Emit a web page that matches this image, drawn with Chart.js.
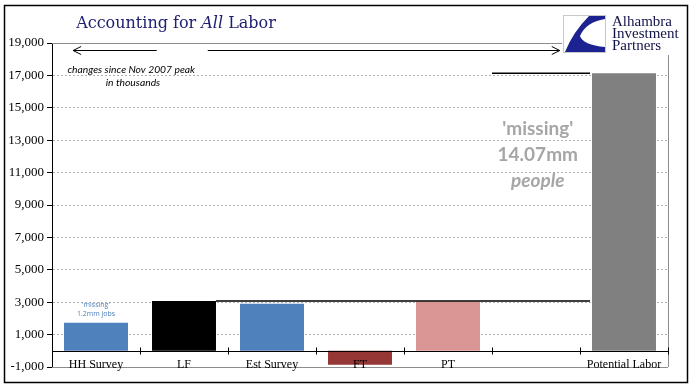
<!DOCTYPE html>
<html>
<head>
<meta charset="utf-8">
<script src="https://cdn.jsdelivr.net/npm/chart.js@4"></script>
<style>
  html, body { margin: 0; padding: 0; background: #fff; }
  #wrap { width: 696px; height: 392px; }
</style>
</head>
<body>
<div id="wrap"><canvas id="chart" width="696" height="392"></canvas></div>
<script>
// values, thousands of people since Nov 2007
const categories = ['HH Survey', 'LF', 'Est Survey', 'FT', 'PT', '', 'Potential Labor'];
const changes = [1730, 3070, 2910, -860, 3050, 0, 17140];
const barColors = ['#4f81bd', '#000000', '#4f81bd', '#953735', '#d99694', '#ffffff', '#808080'];
const yTicks = [-1000, 1000, 3000, 5000, 7000, 9000, 11000, 13000, 15000, 17000, 19000];
const arrowLevel = 18570;

const navy = '#202072';

function catX(xs, c) {
  // c in category units, 0 = left edge of first category
  const p0 = xs.getPixelForValue(0), p1 = xs.getPixelForValue(1);
  return p0 + (c - 0.5) * (p1 - p0);
}

const extras = {
  id: 'extras',
  afterDatasetsDraw(chart) {
    const ctx = chart.ctx, xs = chart.scales.x, ys = chart.scales.y, a = chart.chartArea;
    const step = xs.getPixelForValue(1) - xs.getPixelForValue(0);
    const half = step * 0.727 / 2;
    ctx.save();

    // solid frame lines of the plot
    ctx.strokeStyle = '#8c8c8c';
    ctx.lineWidth = 1;
    ctx.beginPath();
    ctx.moveTo(a.left, Math.round(ys.getPixelForValue(19000)) + 0.5);
    ctx.lineTo(a.right, Math.round(ys.getPixelForValue(19000)) + 0.5);
    ctx.moveTo(a.left, Math.round(ys.getPixelForValue(-1000)) + 0.5);
    ctx.lineTo(a.right, Math.round(ys.getPixelForValue(-1000)) + 0.5);
    ctx.moveTo(Math.round(a.right) + 0.5, a.top);
    ctx.lineTo(Math.round(a.right) + 0.5, a.bottom);
    ctx.stroke();

    // zero axis with ticks
    const y0 = Math.round(ys.getPixelForValue(0)) + 0.5;
    ctx.strokeStyle = '#000';
    ctx.beginPath();
    ctx.moveTo(a.left, y0);
    ctx.lineTo(a.right, y0);
    for (let i = 1; i <= categories.length; i++) {
      const x = Math.round(catX(xs, i)) + 0.5;
      ctx.moveTo(x, y0 - 4);
      ctx.lineTo(x, y0 + 3);
    }
    ctx.stroke();

    // level lines: LF top across to Potential Labor, and Potential Labor top
    const potX = xs.getPixelForValue(6) - half;
    ctx.lineWidth = 1.5;
    ctx.beginPath();
    ctx.moveTo(xs.getPixelForValue(1) + half, ys.getPixelForValue(changes[1]));
    ctx.lineTo(potX - 2, ys.getPixelForValue(changes[1]));
    ctx.moveTo(catX(xs, 5), ys.getPixelForValue(changes[6]));
    ctx.lineTo(potX - 2, ys.getPixelForValue(changes[6]));
    ctx.stroke();

    // arrows along the top
    const ya = Math.round(ys.getPixelForValue(arrowLevel)) + 0.5;
    const l1 = catX(xs, 0.24), l2 = catX(xs, 1.19);
    const r1 = catX(xs, 1.77), r2 = catX(xs, 5.77);
    ctx.lineWidth = 1;
    ctx.beginPath();
    ctx.moveTo(l1, ya); ctx.lineTo(l2, ya);
    ctx.moveTo(l1 + 8, ya - 4); ctx.lineTo(l1, ya); ctx.lineTo(l1 + 8, ya + 4);
    ctx.moveTo(r1, ya); ctx.lineTo(r2, ya);
    ctx.moveTo(r2 - 8, ya - 4); ctx.lineTo(r2, ya); ctx.lineTo(r2 - 8, ya + 4);
    ctx.stroke();

    // category labels sitting under the zero line
    ctx.fillStyle = '#000';
    ctx.font = '12px "Liberation Serif", serif';
    ctx.textAlign = 'center';
    ctx.textBaseline = 'alphabetic';
    categories.forEach((c, i) => {
      ctx.fillText(c, xs.getPixelForValue(i), y0 + 16);
    });

    // notes
    ctx.font = 'italic 10.3px Lato, sans-serif';
    ctx.fillText('changes since Nov 2007 peak', catX(xs, 0.9), 73);
    ctx.fillText('in thousands', catX(xs, 0.92), 86);

    ctx.fillStyle = '#4f81bd';
    ctx.font = '7px "Open Sans", sans-serif';
    ctx.fillText("'missing'", xs.getPixelForValue(0), 307);
    ctx.fillText('1.2mm jobs', xs.getPixelForValue(0), 316);

    ctx.fillStyle = '#a6a6a6';
    ctx.font = 'bold 19px Lato, sans-serif';
    const mx = catX(xs, 5.52);
    ctx.fillText("'missing'", mx, 135);
    ctx.fillText('14.07mm', mx, 161);
    ctx.font = 'italic bold 19px Lato, sans-serif';
    ctx.fillText('people', mx, 187);

    ctx.restore();
  },
  afterDraw(chart) {
    const ctx = chart.ctx;
    ctx.save();
    // logo block
    ctx.fillStyle = '#fff';
    ctx.fillRect(562, 6, 125, 49);
    ctx.strokeStyle = '#c8c8c8';
    ctx.lineWidth = 1;
    ctx.strokeRect(563.5, 15.5, 42, 37);
    ctx.fillStyle = '#1c2390';
    ctx.beginPath();
    ctx.moveTo(605, 16);
    ctx.lineTo(589, 16);
    ctx.quadraticCurveTo(573, 32, 565, 52);
    ctx.lineTo(605, 52);
    ctx.lineTo(605, 47);
    ctx.quadraticCurveTo(583, 45, 580, 36);
    ctx.quadraticCurveTo(586, 22, 605, 19);
    ctx.closePath();
    ctx.fill();

    ctx.fillStyle = '#12124a';
    ctx.font = '15px "Liberation Serif", serif';
    ctx.textAlign = 'left';
    ctx.fillText('Alhambra', 612, 26);
    ctx.fillText('Investment', 612, 38);
    ctx.fillText('Partners', 612, 50);

    // title, with the italic word
    ctx.fillStyle = navy;
    const reg = '16px "DejaVu Serif", serif', ital = 'italic 16px "DejaVu Serif", serif';
    const p1 = 'Accounting for ', p3 = ' Labor';
    ctx.font = reg;
    const w1 = ctx.measureText(p1).width, w3 = ctx.measureText(p3).width;
    ctx.font = ital;
    const w2 = ctx.measureText('All').width;
    const x = 176 - (w1 + w2 + w3) / 2;
    ctx.font = reg;
    ctx.fillText(p1, x, 28);
    ctx.font = ital;
    ctx.fillText('All', x + w1, 28);
    ctx.font = reg;
    ctx.fillText(p3, x + w1 + w2, 28);

    // outer frame
    ctx.strokeStyle = '#000';
    ctx.lineWidth = 1.5;
    ctx.strokeRect(4.5, 5.5, 683, 377);
    ctx.restore();
  }
};

new Chart(document.getElementById('chart'), {
  type: 'bar',
  data: {
    labels: categories,
    datasets: [{
      data: changes,
      backgroundColor: barColors,
      borderWidth: 0,
      barPercentage: 0.727,
      categoryPercentage: 1
    }]
  },
  options: {
    responsive: false,
    animation: false,
    layout: { padding: { left: 0, top: 43, right: 28, bottom: 25 } },
    plugins: { legend: { display: false }, tooltip: { enabled: false } },
    scales: {
      x: { display: false },
      y: {
        min: -1000,
        max: 19000,
        afterBuildTicks: s => { s.ticks = yTicks.map(v => ({ value: v })); },
        afterFit: s => { s.width = 52; },
        ticks: {
          color: '#000',
          padding: 3,
          font: { family: '"Liberation Serif", serif', size: 13 },
          callback: v => v.toLocaleString('en-US')
        },
        grid: { color: '#b0b0b0', tickColor: '#000', tickLength: 5 },
        border: { color: '#000', width: 1, dash: [2, 2] }
      }
    }
  },
  plugins: [extras]
});
</script>
</body>
</html>
